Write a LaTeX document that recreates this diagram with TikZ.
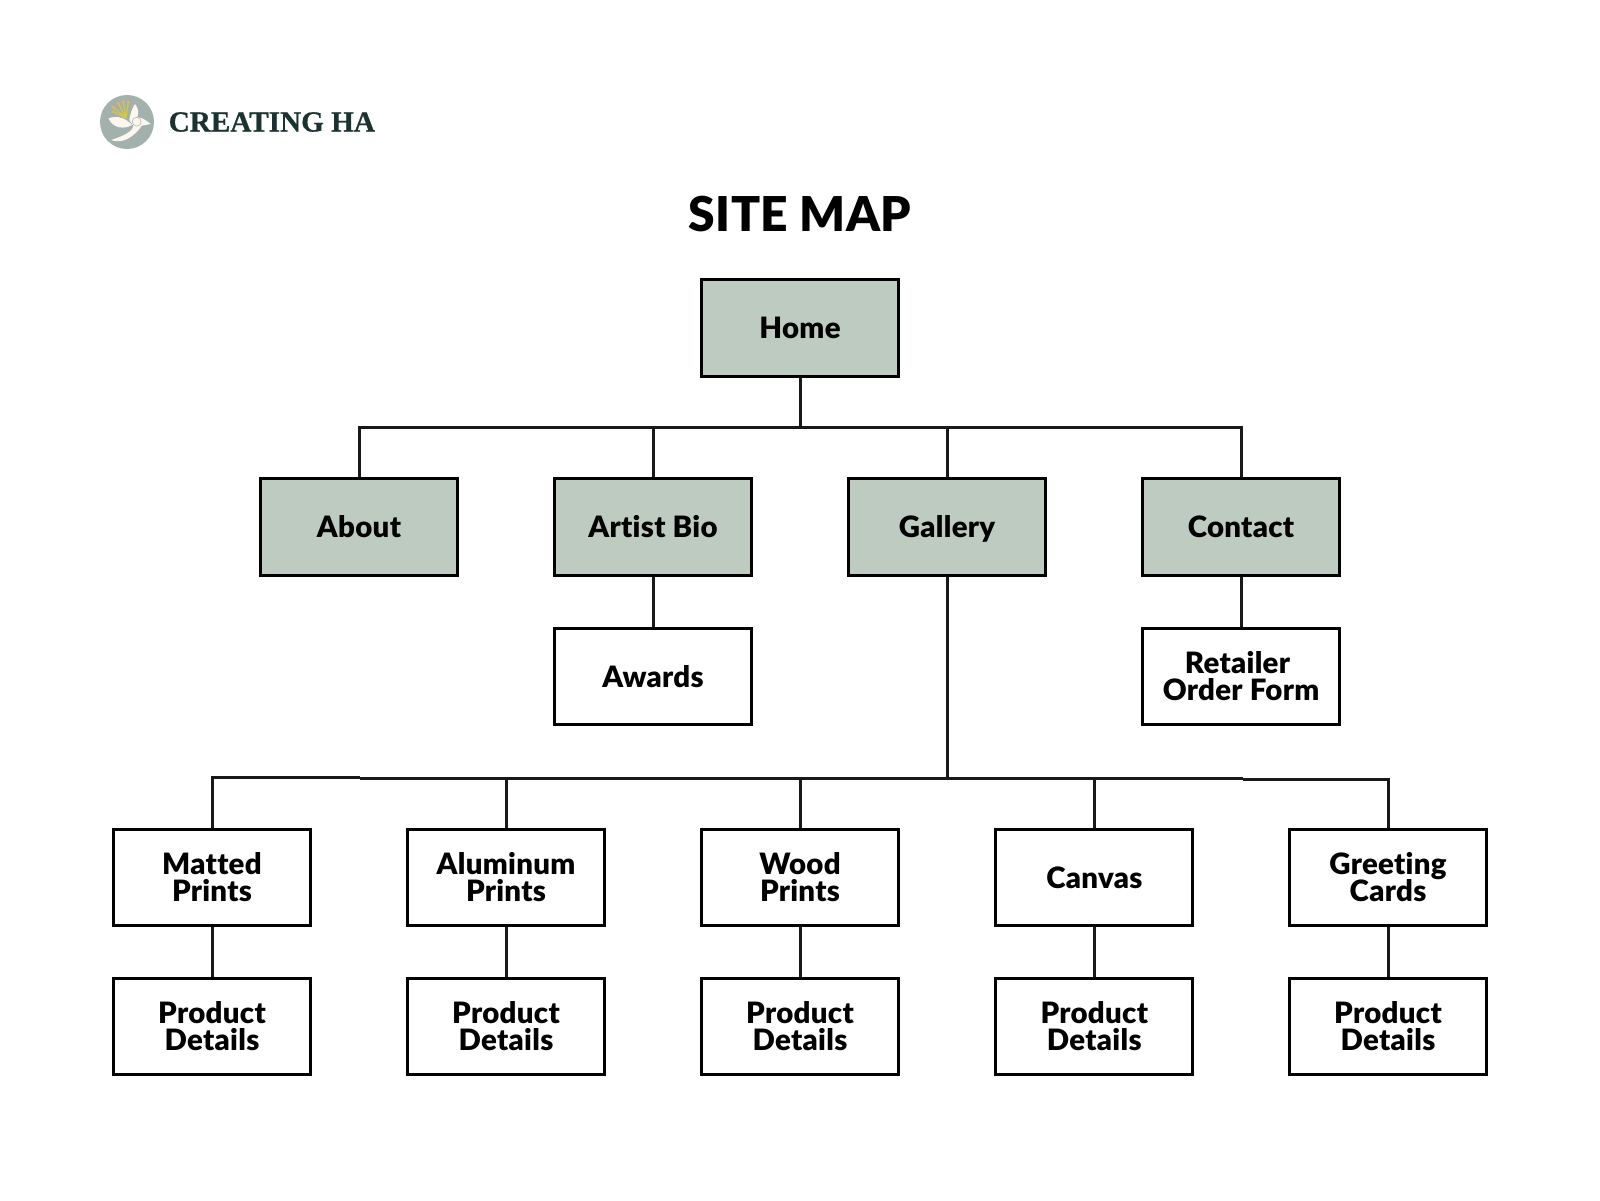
\documentclass[tikz,border=0pt]{standalone}
\usepackage{fontspec}
\setmainfont{Lato Black}[Ligatures=CommonOff,LetterSpace=1.0]
\newfontfamily\logofont{Liberation Serif Bold}[FakeBold=0.6]
\definecolor{sage}{HTML}{BDCBC1}
\definecolor{logocirc}{HTML}{A3B1AC}
\definecolor{logotext}{HTML}{1B3330}
\definecolor{petal}{HTML}{FBF7EF}
\definecolor{stamen}{HTML}{D9C93A}
\definecolor{anther}{HTML}{EDB54A}
\newcommand\lstrut{\rule[-2.95pt]{0pt}{16.7pt}}
\newcommand\brk{\lstrut\\\lstrut}
\newcommand\boxstart{\setlength{\lineskiplimit}{-100pt}\lstrut}
\tikzset{
 pagebox/.style={draw=black,line width=1.55pt,minimum width=98.5pt,minimum height=48.1pt,inner sep=0pt,align=center,font=\fontsize{14.7}{13.2}\selectfont,text=black,fill=white,execute at begin node=\boxstart,execute at end node=\lstrut},
 topbox/.style={pagebox,fill=sage},
 link/.style={draw=black!90,line width=1.5pt},
}
\begin{document}
\begin{tikzpicture}[x=0.5pt,y=-0.5pt]
\useasboundingbox (0,0) rectangle (1600,1200);
\fill[white] (0,0) rectangle (1600,1200);
% logo
\fill[logocirc] (127,122) circle (27pt/2);
\fill[petal] (108.5,118.3) .. controls (118.3,114.7) and (126.7,119) .. (132,125) .. controls (125,129.3) and (113,129) .. (108.5,118.3) -- cycle;
\fill[petal] (129.3,120) .. controls (130,115) and (132,108) .. (135,104) .. controls (138.5,108) and (139,113) .. (137,118.3) -- (138.3,117.3) .. controls (143,118) and (147,121) .. (150.7,124) -- (141.7,125.7) .. controls (137,133) and (130,138.5) .. (123.3,140.5) .. controls (119,141.5) and (115,141.5) .. (111,140) .. controls (119,137.5) and (127,134) .. (130,131.2) .. controls (132,129.5) and (133,128) .. (133.3,125.7) -- cycle;
\draw[logocirc,line width=0.25pt] (136.7,121.7) circle (2.25pt);
\draw[stamen,line width=0.55pt] (126,118.3) -- (113.3,111.7) (126,118.3) -- (113.3,107) (126,118.3) -- (118.3,103.3) (126,118.3) -- (123.3,101.7) (126,118.3) -- (128.3,102.3);
\fill[anther] (113.3,111.7) circle (0.8pt) (113.3,107) circle (0.8pt) (118.3,103.3) circle (0.8pt) (123.3,101.7) circle (0.8pt) (128.3,102.3) circle (0.8pt);
\node[font=\logofont\fontsize{14.6}{14.6}\selectfont,text=logotext,anchor=west,inner sep=0pt] (logo) at (168.3,122) {CREATING HA};
\node[font=\fontsize{24}{24}\selectfont,text=black,inner sep=0pt] (title) at (800,214) {SITE MAP};
% nodes
\node[topbox] (home) at (800,328) {Home};
\node[topbox] (about) at (359,527) {About};
\node[topbox] (bio) at (653,527) {Artist Bio};
\node[topbox] (gallery) at (947,527) {Gallery};
\node[topbox] (contact) at (1241,527) {Contact};
\node[pagebox] (awards) at (653,676.3) {Awards};
\node[pagebox] (retailer) at (1241,676.3) {Retailer\hspace{3.5pt}\brk Order Form};
\node[pagebox] (matted) at (212,877.2) {Matted\brk Prints};
\node[pagebox] (alu) at (506,877.2) {Aluminum\brk Prints};
\node[pagebox] (wood) at (800,877.2) {Wood\brk Prints};
\node[pagebox] (canvas) at (1094.3,877.2) {Canvas};
\node[pagebox] (greet) at (1388,877.2) {Greeting\brk Cards};
\node[pagebox] (pd1) at (212,1026.2) {Product\brk Details};
\node[pagebox] (pd2) at (506,1026.2) {Product\brk Details};
\node[pagebox] (pd3) at (800,1026.2) {Product\brk Details};
\node[pagebox] (pd4) at (1094.3,1026.2) {Product\brk Details};
\node[pagebox] (pd5) at (1388,1026.2) {Product\brk Details};
% connectors
\coordinate (bus1) at (800,427);
\coordinate (busL) at (360,777.6);
\coordinate (busM) at (360,778.2);
\coordinate (bus2) at (947,778.2);
\coordinate (busN) at (1243,778.2);
\coordinate (busR) at (1243,779);
\draw[link] (home.south) -- (bus1);
\draw[link] (about.north) |- (bus1) -| (contact.north);
\draw[link] (bio.north) -- (bio.north |- bus1);
\draw[link] (gallery.north) -- (gallery.north |- bus1);
\draw[link] (bio.south) -- (awards.north);
\draw[link] (contact.south) -- (retailer.north);
\draw[link] (gallery.south) -- (bus2);
\draw[link] (matted.north) |- (busL);
\draw[link] (busM) -- (busN);
\draw[link] (busR) -| (greet.north);
\draw[link] (alu.north) -- (alu.north |- bus2);
\draw[link] (wood.north) -- (wood.north |- bus2);
\draw[link] (canvas.north) -- (canvas.north |- bus2);
\draw[link] (matted.south) -- (pd1.north);
\draw[link] (alu.south) -- (pd2.north);
\draw[link] (wood.south) -- (pd3.north);
\draw[link] (canvas.south) -- (pd4.north);
\draw[link] (greet.south) -- (pd5.north);
\end{tikzpicture}
\end{document}
